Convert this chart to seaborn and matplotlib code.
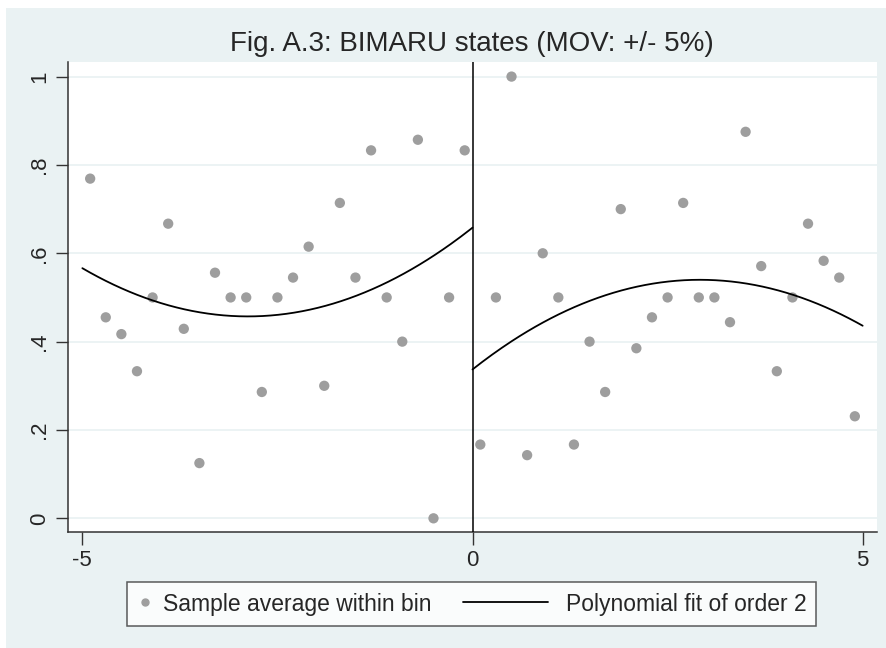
import matplotlib
matplotlib.use("Agg")
import matplotlib.pyplot as plt
import seaborn as sns
import numpy as np
import pandas as pd
from matplotlib.patches import Rectangle
from matplotlib.lines import Line2D
from matplotlib.legend_handler import HandlerLine2D

# bin averages (bin width 0.2 around the cutoff)
left_x = [-4.9, -4.7, -4.5, -4.3, -4.1, -3.9, -3.7, -3.5, -3.3, -3.1, -2.9, -2.7, -2.5,
          -2.3, -2.1, -1.9, -1.7, -1.5, -1.3, -1.1, -0.9, -0.7, -0.5, -0.3, -0.1]
left_y = [0.769, 0.455, 0.417, 0.333, 0.5, 0.667, 0.429, 0.125, 0.556, 0.5, 0.5, 0.286, 0.5,
          0.545, 0.615, 0.3, 0.714, 0.545, 0.833, 0.5, 0.4, 0.857, 0.0, 0.5, 0.833]
right_x = [0.1, 0.3, 0.5, 0.7, 0.9, 1.1, 1.3, 1.5, 1.7, 1.9, 2.1, 2.3, 2.5,
           2.7, 2.9, 3.1, 3.3, 3.5, 3.7, 3.9, 4.1, 4.3, 4.5, 4.7, 4.9]
right_y = [0.167, 0.5, 1.0, 0.143, 0.6, 0.5, 0.167, 0.4, 0.286, 0.7, 0.385, 0.455, 0.5,
           0.714, 0.5, 0.5, 0.444, 0.875, 0.571, 0.333, 0.5, 0.667, 0.583, 0.545, 0.231]

# quadratic fit coefficients (x^2, x, 1)
# (the original was fitted on the raw data, not on the bin means)
fit_left = [0.02425, 0.1396, 0.658]
fit_right = [-0.0239, 0.1393, 0.337]

bins = pd.DataFrame({"x": left_x + right_x, "y": left_y + right_y})


class LongLine(HandlerLine2D):
    # line handle that reaches further left than the (short) handle box
    def get_xdata(self, legend, xdescent, ydescent, width, height, fontsize):
        x1 = -xdescent + width - 0.26 * fontsize
        return [x1 - 3.7 * fontsize, x1], [x1]


bg = "#EAF2F3"
sns.set_style("white")
plt.rcParams["font.family"] = ["Liberation Sans", "DejaVu Sans"]

fig = plt.figure(figsize=(8.86, 6.48), dpi=100)
fig.patch.set_facecolor("white")
fig.patches.append(Rectangle((6 / 886, 0), 1 - 6 / 886, 1 - 8 / 648,
                             transform=fig.transFigure, facecolor=bg,
                             edgecolor="none", zorder=-10))

ax = fig.add_axes([0.0771, 0.179, 0.9124, 0.7253])
ax.set_facecolor("white")

for v in [0, 0.2, 0.4, 0.6, 0.8, 1.0]:
    ax.axhline(v, color=bg, lw=1.3, zorder=0)

sns.scatterplot(data=bins, x="x", y="y", ax=ax, color="#9E9E9E", s=55,
                edgecolor="none", zorder=3, legend=False)

for coef, lo, hi in [(fit_left, -5, 0), (fit_right, 0, 5)]:
    grid = np.linspace(lo, hi, 200)
    sns.lineplot(x=grid, y=np.polyval(coef, grid), ax=ax, color="black",
                 lw=1.3, zorder=4, estimator=None)

ax.axvline(0, color="black", lw=1.1, zorder=5)

ax.set_xlim(-5.18, 5.18)
ax.set_ylim(-0.031, 1.033)
ax.set_xticks([-5, 0, 5])
ax.set_xticklabels(["-5", "0", "5"])
ax.set_yticks([0, 0.2, 0.4, 0.6, 0.8, 1.0])
ax.set_yticklabels(["0", ".2", ".4", ".6", ".8", "1"], rotation=90, va="center")
ax.tick_params(axis="both", direction="out", length=9, width=1, color="#333333",
               labelsize=16, pad=4, left=True, bottom=True)
ax.set_xlabel("")
ax.set_ylabel("")
for side in ["top", "right"]:
    ax.spines[side].set_visible(False)
for side in ["left", "bottom"]:
    ax.spines[side].set_color("#333333")
    ax.spines[side].set_linewidth(1.1)

fig.text(0.5327, 1 - 44 / 648, "Fig. A.3: BIMARU states (MOV: +/- 5%)",
         ha="center", va="center", fontsize=20)

marker_handle = Line2D([], [], marker="o", color="#9E9E9E", ls="none", markersize=5)
line_handle = Line2D([], [], color="black", lw=1.3)
leg = fig.legend([marker_handle, line_handle],
                 ["Sample average within bin", "Polynomial fit of order 2"],
                 handler_map={line_handle: LongLine()},
                 loc="center", bbox_to_anchor=(0.5327, 1 - 604 / 648), ncol=2,
                 fontsize=16.5, frameon=True, fancybox=False, handlelength=0.6,
                 handletextpad=0.5, columnspacing=4.75, borderpad=0.45)
leg.get_frame().set_edgecolor("#333333")
leg.get_frame().set_linewidth(1.1)
leg.get_frame().set_facecolor("white")

fig.savefig("out.png", dpi=100, facecolor=fig.get_facecolor())
